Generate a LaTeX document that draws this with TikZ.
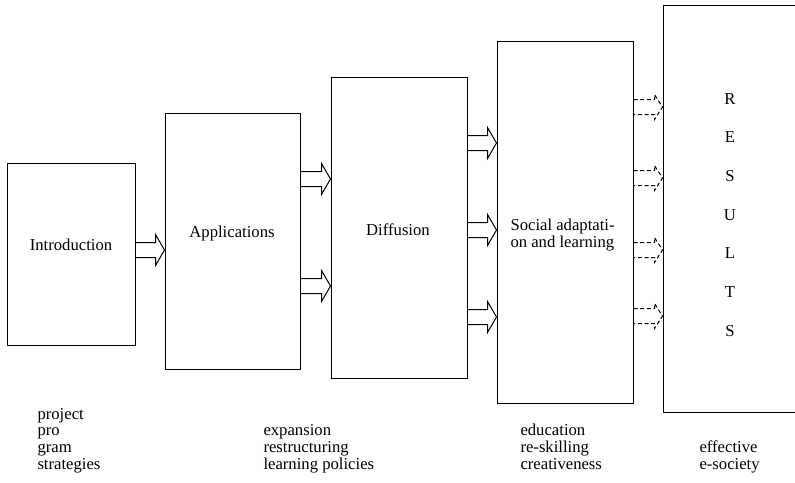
\documentclass[tikz,border=0pt]{standalone}
\usepackage{fontspec}
\setmainfont{Liberation Serif}
\usetikzlibrary{fit,calc}

\begin{document}
\begin{tikzpicture}[x=0.75pt,y=-0.75pt,line width=0.75pt]
    \tikzstyle{every node}=[font=\fontsize{12.5}{12.4}\selectfont]
    \tikzstyle{stage}=[draw,rectangle,inner sep=0pt]
    \tikzstyle{label text}=[inner sep=0pt,anchor=base]
    \tikzstyle{note}=[align=left,inner sep=0pt,anchor=base west]
    \tikzstyle{flow}=[draw=black,line join=miter]
    \tikzstyle{outcome}=[flow,dash pattern=on 3pt off 2pt]

    \useasboundingbox (0,0) rectangle (795,482);
    \clip (0,0) rectangle (795,482);

    % Draw the stages
    \node[stage,fit={(7,163)(135,345)}] (intro) {};
    \node[stage,fit={(165,113)(300,369)}] (apps) {};
    \node[stage,fit={(331,77)(467,378)}] (diff) {};
    \node[stage,fit={(497,41)(633,403)}] (social) {};
    \node[stage,fit={(663,5)(830,412)}] (results) {};

    \node[label text] (intro-t) at (71,250) {Introduction};
    \node[label text] (apps-t) at (232,237) {Applications};
    \node[label text] (diff-t) at (398,235) {Diffusion};
    \node[note] (social-t) at (510,247) {Social adaptati-\\on and learning};
    \foreach \ch [count=\i] in {R,E,S,U,L,T,S}
        \node[label text] (res-\i) at (730,{104+38.7*(\i-1)}) {\ch};

    % Block arrows between the stages
    \foreach \a/\b/\y in {intro/apps/250,apps/diff/179,apps/diff/286,diff/social/143,diff/social/230,diff/social/317}
    {
        \coordinate (tip) at (\b.west |- 0,\y);
        \draw[flow] (\a.east |- 0,{\y-7.5}) -- ($(tip)+(-9,-7.5)$) -- ($(tip)+(-9,-15.5)$) -- (tip)
            -- ($(tip)+(-9,15.5)$) -- ($(tip)+(-9,7.5)$) -- (\a.east |- 0,{\y+7.5});
    }
    % Dashed arrows into the results
    \foreach \y in {107,178,250,316}
    {
        \coordinate (tip) at (results.west |- 0,\y);
        \draw[outcome] (social.east |- 0,{\y-7.5}) -- ($(tip)+(-8,-7.5)$) -- ($(tip)+(-8,-12.5)$) -- (tip)
            -- ($(tip)+(-8,12.5)$) -- ($(tip)+(-8,7.5)$) -- (social.east |- 0,{\y+7.5});
    }

    % Notes under the stages
    \node[note] (n-intro) at (37,469) {project\\pro\\gram\\strategies};
    \node[note] (n-apps) at (263,469) {expansion\\restructuring\\learning policies};
    \node[note] (n-social) at (520,469) {education\\re-skilling\\creativeness};
    \node[note] (n-results) at (699,469) {effective\\e-society};
\end{tikzpicture}
\end{document}
